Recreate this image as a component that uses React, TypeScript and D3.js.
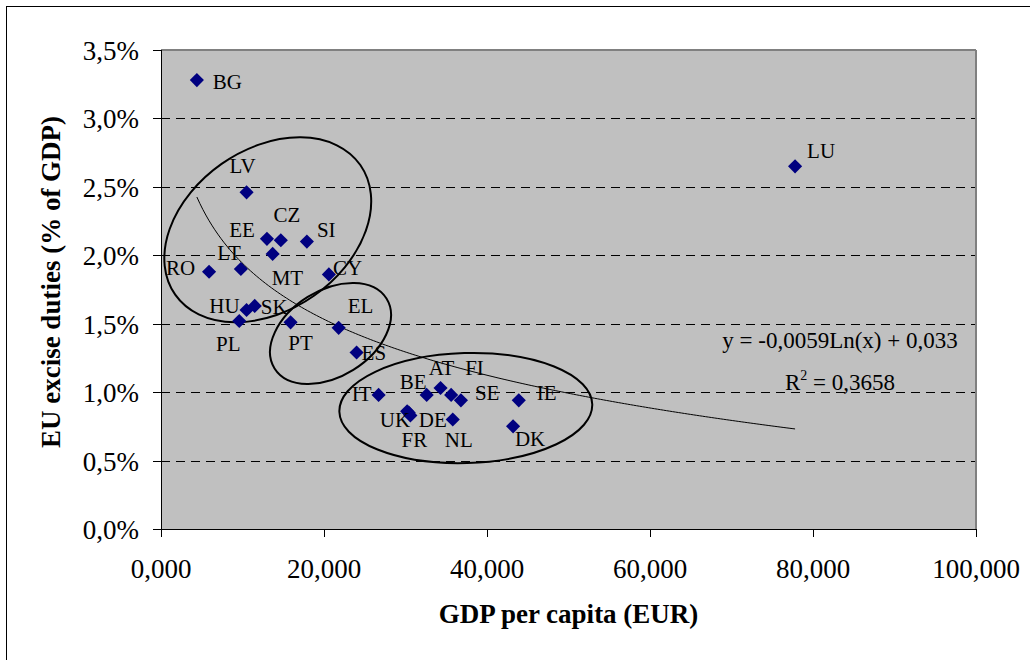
import React from 'react';
import * as d3 from 'd3';

// EU member states, GDP per capita (thousand EUR) vs excise duties (share of GDP)
const countries = ['BG', 'LV', 'EE', 'CZ', 'SI', 'MT', 'RO', 'LT', 'CY', 'PL', 'HU', 'SK', 'PT', 'EL', 'ES', 'IT', 'BE', 'AT', 'FI', 'SE', 'IE', 'UK', 'DE', 'FR', 'NL', 'DK', 'LU'];
const gdpPerCapita = [4.4, 10.5, 13.0, 14.7, 17.9, 13.7, 5.9, 9.8, 20.6, 9.6, 10.5, 11.5, 15.9, 21.8, 24.0, 26.7, 32.6, 34.3, 35.6, 36.8, 43.9, 30.2, 30.4, 30.6, 35.8, 43.2, 77.8];
const exciseShare = [0.0328, 0.0246, 0.0212, 0.0211, 0.0210, 0.0201, 0.0188, 0.0190, 0.0186, 0.0152, 0.0160, 0.0163, 0.0151, 0.0147, 0.0129, 0.0098, 0.0098, 0.0103, 0.0098, 0.0094, 0.0094, 0.0086, 0.0085, 0.0083, 0.0080, 0.0075, 0.0265];

const xTicks = [0, 20, 40, 60, 80, 100];
const yTicks = [0, 0.005, 0.01, 0.015, 0.02, 0.025, 0.03, 0.035];

// logarithmic trendline shown on the chart
const trendSlope = -0.0059;
const trendIntercept = 0.033;
const trendLabel = 'y = -0,0059Ln(x) + 0,033';
const rSquaredLabel = '0,3658';

// label placement relative to the marker: dx, dy (baseline), anchor
const labelPlacement: { [k: string]: [number, number, string] } = {
  BG: [16, 9, 'start'], LV: [-4, -19, 'middle'], EE: [-12, -2, 'end'], CZ: [6, -18, 'middle'],
  SI: [10, -5, 'start'], MT: [-1, 31, 'start'], RO: [-14, 3, 'end'], LT: [0, -9, 'end'],
  CY: [4, 1, 'start'], PL: [-11, 30, 'middle'], HU: [-7, 3, 'end'], SK: [6, 8, 'start'],
  PT: [10, 28, 'middle'], EL: [9, -15, 'start'], ES: [5, 8, 'start'], IT: [-7, 6, 'end'],
  BE: [0, -6, 'end'], AT: [1, -13, 'middle'], FI: [14, -20, 'start'], SE: [14, 0, 'start'],
  IE: [18, 0, 'start'], UK: [3, 16, 'end'], DE: [10, 14, 'start'], FR: [4, 32, 'middle'],
  NL: [6, 27, 'middle'], DK: [17, 20, 'middle'], LU: [12, -8, 'start'],
};

// hand-drawn group ellipses: centre in data units, radii in px, rotation in degrees
const groupCentreGdp = [13.1, 20.8, 37.4];
const groupCentreShare = [0.02186, 0.01429, 0.00884];
const groupRadiusX = [113, 66, 126.5];
const groupRadiusY = [80.5, 43, 55];
const groupRotation = [-35, -32, -1.7];

const W = 1030;
const H = 660;
const margin = { top: 50, right: 54, bottom: 131, left: 161 };
const font = '"Liberation Serif", "Times New Roman", Times, serif';

const locale = d3.formatLocale({ decimal: ',', thousands: '.', grouping: [3], currency: ['', ' €'] });
const fmtX = locale.format('.3f');
const fmtY = locale.format('.1%');

export default function App() {
  const x = d3.scaleLinear().domain([0, 100]).range([margin.left, W - margin.right]);
  const y = d3.scaleLinear().domain([0, 0.035]).range([H - margin.bottom, margin.top]);
  const [x0, x1] = x.range();
  const [y0, y1] = y.range();

  const diamond = d3.symbol(d3.symbolSquare, 100)() as string;

  const xMin = d3.min(gdpPerCapita) as number;
  const xMax = d3.max(gdpPerCapita) as number;
  const trendXs = d3.range(0, 201).map(i => xMin + (xMax - xMin) * i / 200);
  const trendPath = d3.line<number>()
    .x(d => x(d))
    .y(d => y(trendSlope * Math.log(d) + trendIntercept))(trendXs) as string;

  return (
    <div style={{ position: 'absolute', left: 0, top: 0 }}>
      <svg width={W} height={H} style={{ display: 'block', background: '#fff' }} fontFamily={font}>
        <rect x={6.5} y={6.5} width={W + 20} height={H + 20} fill="#fff" stroke="#000" strokeWidth={1} />

        {/* plot area */}
        <rect x={x0} y={y1} width={x1 - x0} height={y0 - y1} fill="#c0c0c0" />
        {yTicks.filter(t => t > 0 && t < 0.035).map(t => (
          <line key={t} x1={x0} x2={x1} y1={Math.round(y(t)) + 0.5} y2={Math.round(y(t)) + 0.5}
            stroke="#000" strokeWidth={1} strokeDasharray="9,6" />
        ))}
        <line x1={x0} x2={x1} y1={y1} y2={y1} stroke="#808080" strokeWidth={2} />
        <line x1={x1} x2={x1} y1={y1} y2={y0} stroke="#808080" strokeWidth={2} />

        {/* trendline */}
        <path d={trendPath} fill="none" stroke="#000" strokeWidth={1} />

        {/* group ellipses */}
        {groupCentreGdp.map((g, i) => (
          <ellipse key={i} cx={0} cy={0} rx={groupRadiusX[i]} ry={groupRadiusY[i]}
            transform={`translate(${x(g)},${y(groupCentreShare[i])}) rotate(${groupRotation[i]})`}
            fill="none" stroke="#000" strokeWidth={2} />
        ))}

        {/* points */}
        {countries.map((c, i) => (
          <path key={c} d={diamond} fill="#000080"
            transform={`translate(${x(gdpPerCapita[i])},${y(exciseShare[i])}) rotate(45)`} />
        ))}
        {countries.map((c, i) => {
          const [dx, dy, anchor] = labelPlacement[c];
          return (
            <text key={c} x={x(gdpPerCapita[i]) + dx} y={y(exciseShare[i]) + dy}
              textAnchor={anchor} fontSize={21} fill="#000">{c}</text>
          );
        })}

        {/* trendline label */}
        <text x={840} y={348} textAnchor="middle" fontSize={23}>{trendLabel}</text>
        <text x={840} y={390} textAnchor="middle" fontSize={23}>
          R<tspan fontSize={14} dy={-10}>2</tspan><tspan dy={10}>{' = ' + rSquaredLabel}</tspan>
        </text>

        {/* axes */}
        <line x1={x0 + 0.5} x2={x0 + 0.5} y1={y1} y2={y0} stroke="#000" strokeWidth={1} />
        <line x1={x0} x2={x1} y1={y0 + 0.5} y2={y0 + 0.5} stroke="#000" strokeWidth={1} />
        {yTicks.map(t => (
          <g key={t}>
            <line x1={x0 - 8} x2={x0} y1={Math.round(y(t)) + 0.5} y2={Math.round(y(t)) + 0.5} stroke="#000" />
            <text x={139} y={y(t) + 10} textAnchor="end" fontSize={27}>{fmtY(t)}</text>
          </g>
        ))}
        {xTicks.map(t => (
          <g key={t}>
            <line x1={Math.round(x(t)) + 0.5} x2={Math.round(x(t)) + 0.5} y1={y0} y2={y0 + 8} stroke="#000" />
            <text x={x(t)} y={578} textAnchor="middle" fontSize={27}>{fmtX(t)}</text>
          </g>
        ))}

        <text x={(x0 + x1) / 2} y={623} textAnchor="middle" fontSize={27} fontWeight="bold">GDP per capita (EUR)</text>
        <text transform={`translate(60,282) rotate(-90)`} textAnchor="middle" fontSize={27} fontWeight="bold">
          EU excise duties (% of GDP)
        </text>
      </svg>
    </div>
  );
}
